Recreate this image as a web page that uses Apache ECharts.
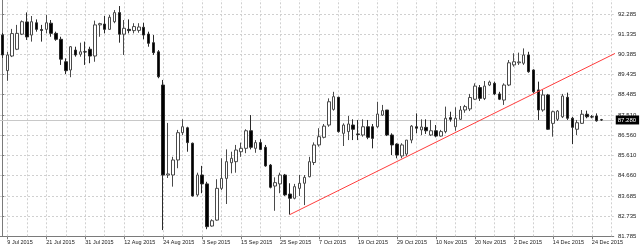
<!DOCTYPE html>
<html><head><meta charset="utf-8">
<script src="https://cdn.jsdelivr.net/npm/echarts@6/dist/echarts.min.js"></script>
<style>html,body{margin:0;padding:0;background:#fff}#c{width:640px;height:249px}</style>
</head><body><div id="c"></div>
<script>
// trading days (2015) per month
const julDays = [8,9,10,13,14,15,16,17,20,21,22,23,24,27,28,29,30,31];
const augDays = [3,4,5,6,7,10,11,12,13,14,17,18,19,20,21,24,25,26,27,28,31];
const sepDays = [1,2,3,4,7,8,9,10,11,14,15,16,17,18,21,22,23,24,25,28,29,30];
const octDays = [1,2,5,6,7,8,9,12,13,14,15,16,19,20,21,22,23,26,27,28,29,30];
const novDays = [2,3,4,5,6,9,10,11,12,13,16,17,18,19,20,23,24,25,26,27,30];
const decDays = [1,2,3,4,7,8,9,10,11,14,15,16,17,18,21,22,23,24,25,28];
const emptySlots = ['29 Dec 2015','30 Dec 2015'];

const opens = [91.29,89.61,90.30,90.62,91.33,91.91,91.29,91.87,91.55,91.56,91.85,91.37,91.09,90.03,89.64,90.58,90.38,90.50,90.62,90.30,
91.77,91.81,91.56,91.92,92.35,91.33,91.56,91.50,91.51,91.66,91.34,90.93,90.50,88.93,84.68,84.68,85.39,86.68,86.91,86.18,
83.74,84.68,84.26,82.27,82.55,84.05,84.52,85.26,85.31,85.78,85.94,86.77,85.94,86.21,85.99,85.15,84.16,84.26,84.68,83.78,
83.58,84.05,84.29,84.60,85.27,86.10,86.46,87.04,87.78,88.35,86.65,86.73,87.04,86.62,86.57,86.96,86.96,86.96,87.51,87.75,
86.57,86.14,85.58,85.67,86.33,86.96,86.81,86.93,86.57,86.77,86.52,86.73,87.39,86.96,87.31,87.75,87.80,88.26,88.81,88.29,
88.93,89.01,88.51,88.22,88.93,89.88,89.98,89.96,90.35,89.64,88.70,87.75,88.46,87.12,87.31,87.43,88.35,87.36,86.84,87.12,
87.55,87.43,87.47,87.29];
const closes = [90.35,90.35,91.36,91.37,91.92,91.20,91.92,91.56,91.51,91.87,91.37,91.09,90.15,89.61,90.74,90.35,90.50,90.49,90.30,91.77,
91.83,91.56,92.13,92.35,91.33,91.61,91.50,91.69,91.67,91.29,90.90,90.46,89.32,84.68,84.73,85.39,86.68,86.96,86.21,83.69,
84.68,84.26,82.24,82.52,84.05,84.52,85.31,85.47,85.86,85.94,86.77,85.99,86.21,85.89,85.11,84.10,84.32,84.68,83.74,83.58,
84.13,84.29,84.57,85.31,86.10,86.49,86.99,88.14,88.38,86.73,87.04,87.09,86.84,86.59,86.96,86.46,86.41,87.56,87.72,86.57,
86.10,85.62,86.10,86.33,86.99,86.89,86.95,86.77,86.77,86.52,86.73,87.36,87.31,87.36,87.75,87.91,88.34,88.88,88.30,88.88,
89.07,88.51,88.26,88.93,89.98,90.03,90.02,90.35,89.56,88.61,87.75,88.46,86.84,87.67,87.70,88.41,87.36,86.93,87.15,87.55,
87.43,87.42,87.24,87.28];
const lows = [90.21,89.13,90.25,90.58,91.29,91.06,90.98,91.45,90.98,91.37,91.21,91.02,89.88,89.45,89.30,90.27,90.27,89.88,89.96,90.03,
91.21,91.37,91.53,91.85,90.93,90.35,91.37,91.37,91.40,91.09,90.74,90.35,89.25,82.08,84.54,84.13,85.00,86.57,85.78,83.66,
83.66,83.82,82.12,82.24,82.52,83.97,83.31,84.76,84.79,85.54,85.71,85.89,85.73,85.86,85.07,84.05,82.99,83.82,83.69,82.81,
83.53,83.69,83.26,84.57,85.15,86.02,86.41,86.96,87.72,86.68,86.05,86.33,86.33,86.33,86.49,86.37,85.94,86.89,87.47,86.52,
85.62,85.47,85.47,85.58,86.18,86.65,86.57,86.62,86.52,86.46,86.49,86.65,87.20,86.77,87.28,87.62,87.70,88.22,88.18,88.22,
88.88,88.46,88.22,87.99,88.88,89.80,89.88,89.88,89.51,88.54,87.28,87.67,86.81,86.49,87.23,87.37,87.28,86.14,86.57,87.09,
87.36,87.36,87.20,87.24];
const highs = [91.39,90.49,91.58,91.77,91.98,92.36,92.19,92.03,91.77,92.24,92.00,91.45,91.21,90.19,90.77,90.74,90.93,90.98,90.74,91.97,
91.87,92.19,92.24,92.47,92.66,92.00,92.03,91.85,91.85,91.87,91.45,91.29,90.58,89.17,87.14,85.54,86.81,87.31,86.96,86.21,
84.79,85.11,84.36,82.59,84.48,85.47,85.89,85.78,86.10,86.21,86.84,87.51,86.33,86.37,86.10,85.20,84.57,84.79,84.73,84.29,
84.26,84.68,84.68,85.54,86.22,86.89,87.09,88.30,88.61,88.38,87.12,87.47,87.31,87.28,87.31,87.28,87.09,88.14,87.99,87.75,
86.65,86.18,86.18,86.33,87.04,87.59,87.31,87.31,87.28,87.04,86.81,87.91,87.67,87.88,87.94,87.99,88.51,89.01,88.93,89.12,
89.14,89.09,88.61,89.01,90.11,90.43,90.46,90.66,90.50,89.67,89.09,88.70,88.51,87.72,87.75,88.51,88.57,87.43,87.28,87.75,
87.72,87.51,87.59,87.33];

const yTicks = [92.285,91.335,90.385,89.435,88.485,87.510,86.560,85.610,84.660,83.685,82.735,81.785];
const yMin = 81.785, yMax = 92.946;
const lastPrice = 87.280;
const trendStartDate = '29 Sep 2015', trendStartValue = 82.81;
const trendEndValue = 90.45;

const dates = [];
[['Jul',julDays],['Aug',augDays],['Sep',sepDays],['Oct',octDays],['Nov',novDays],['Dec',decDays]].forEach(([m,ds])=>ds.forEach(d=>dates.push(d+' '+m+' 2015')));
const nReal = dates.length;
emptySlots.forEach(d=>dates.push(d));
const N = dates.length;

const ohlc = opens.map((o,i)=>[o, closes[i], lows[i], highs[i]]);
const labelIdx = i => i >= 1 && (i - 1) % 8 === 0 && i < nReal;
const gridIdx = [];
for (let i = 1; i < N; i += 4) gridIdx.push(i);

const BW = 4.892;
const gridLeft = -2.64;
const gridWidth = N * BW;

const chart = echarts.init(document.getElementById('c'), null, {renderer:'canvas'});
chart.setOption({
  animation: false,
  backgroundColor: '#ffffff',
  textStyle: {fontFamily: 'Liberation Sans, Arial, sans-serif'},
  grid: {left: gridLeft, top: 0, width: gridWidth, bottom: 12.7, containLabel: false},
  xAxis: [{
    type: 'category', data: dates, boundaryGap: true,
    axisLine: {show: true, lineStyle: {color: '#7a7a7a', width: 1}},
    axisTick: {show: true, interval: (i)=>labelIdx(i), alignWithLabel: true, length: 3, lineStyle: {color: '#7a7a7a'}},
    axisLabel: {show: true, interval: (i)=>labelIdx(i), fontSize: 5.5, color: '#1a1a1a', align: 'left', margin: 3,
      formatter: v => v},
    splitLine: {show: false}
  }, {
    type: 'value', min: -0.5, max: N - 0.5, show: false
  }],
  yAxis: [{
    type: 'value', position: 'right', offset: 2.24, min: yMin, max: yMax, scale: true,
    axisLine: {show: true, lineStyle: {color: '#7a7a7a', width: 1}},
    axisTick: {show: true, customValues: yTicks, length: 2, lineStyle: {color: '#7a7a7a'}},
    axisLabel: {show: true, customValues: yTicks, fontSize: 6, color: '#1a1a1a', margin: 2,
      formatter: v => Number(v).toFixed(3)},
    splitLine: {show: false}
  }],
  series: [{
    type: 'line', name: 'grid', xAxisIndex: 1, data: [], z: 1, silent: true,
    markLine: {
      silent: true, symbol: ['none','none'], z: 1, animation: false,
      label: {show: false},
      lineStyle: {type: [2,2], color: '#d0d0d0', width: 1},
      data: yTicks.slice(0, -1).map(v=>({yAxis: v})).concat(gridIdx.map(i=>({xAxis: i})))
    }
  }, {
    type: 'candlestick', name: 'price', data: ohlc, barWidth: 3, z: 3,
    itemStyle: {color: '#ffffff', color0: '#000000', borderColor: '#4a4a4a', borderColor0: '#2a2a2a', borderWidth: 1},
    markLine: {
      silent: true, symbol: ['none','none'], z: 2, animation: false,
      lineStyle: {type: 'solid', color: '#c8c8c8', width: 1},
      label: {show: true, position: 'end', distance: 2, formatter: lastPrice.toFixed(3),
        backgroundColor: '#000', color: '#fff', fontSize: 6, padding: [2, 3, 1, 2]},
      data: [{yAxis: lastPrice}]
    }
  }, {
    type: 'line', name: 'trend', xAxisIndex: 1, z: 4, clip: false, silent: true,
    symbol: 'none', lineStyle: {color: '#ff3c3c', width: 1},
    data: [[dates.indexOf(trendStartDate), trendStartValue], [N, trendEndValue]]
  }]
});
</script></body></html>
